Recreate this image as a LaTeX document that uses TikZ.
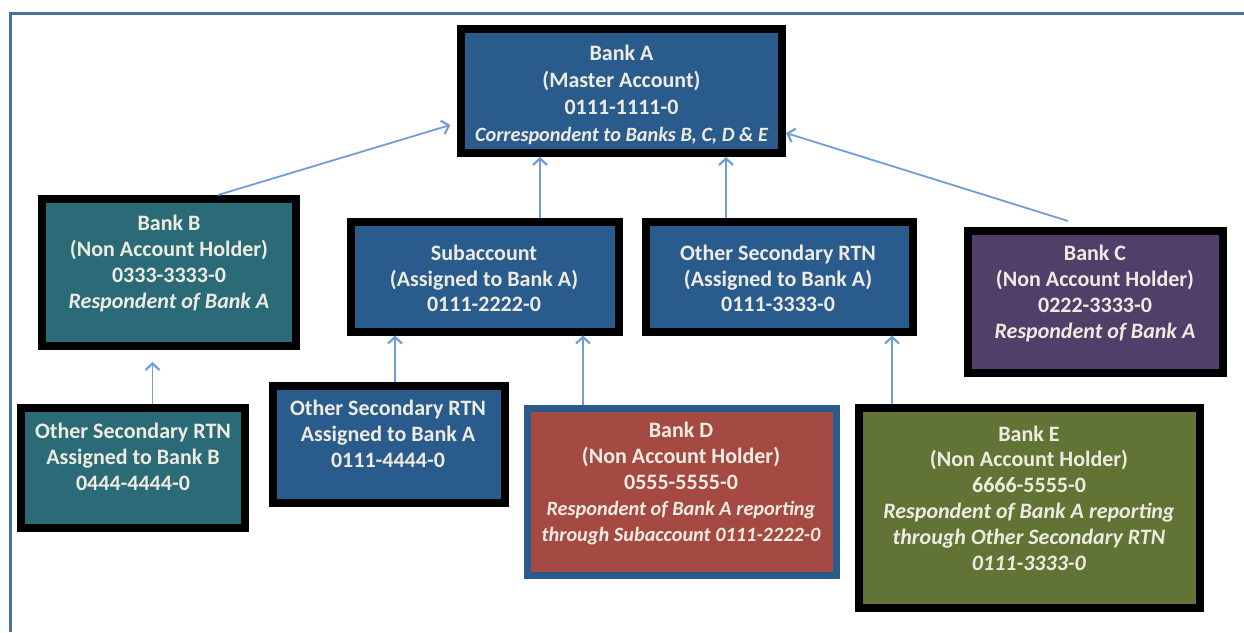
\documentclass[tikz,border=0pt]{standalone}
\usepackage{fontspec}
\setmainfont{Carlito}
\usetikzlibrary{arrows.meta}

\definecolor{frameblue}{HTML}{4A70A3}
\definecolor{acctblue}{HTML}{2A5B8D}
\definecolor{tealfill}{HTML}{2B6B78}
\definecolor{purplefill}{HTML}{513F6A}
\definecolor{redfill}{HTML}{A54A43}
\definecolor{greenfill}{HTML}{627435}
\definecolor{labeltext}{HTML}{EEECE1}
\definecolor{linkblue}{HTML}{6F9FD4}

% slightly smaller italic line used in some boxes
\newcommand{\smallit}[1]{{\fontsize{20.3}{25.8}\selectfont\itshape #1}}

\tikzset{
  bankbox/.style={draw=black, line width=8pt, inner sep=0pt},
  bluebox/.style={draw=acctblue, line width=7pt, inner sep=0pt},
  boxtext/.style={text=labeltext, align=center, inner sep=0pt,
    font=\bfseries\fontsize{22}{25.8}\selectfont},
  link/.style={draw=linkblue, line width=1.8pt,
    -{Straight Barb[length=6.5pt,width=14pt,line width=2.2pt]}},
  framerule/.style={draw=frameblue, line width=3pt}
}

\begin{document}
\begin{tikzpicture}[x=1pt, y=-1pt]
\useasboundingbox (0,0) rectangle (1244,632);
\fill[white] (0,0) rectangle (1244,632);

% outer frame (left and top rules)
\draw[framerule] (10,632) -- (10,13) -- (1244,13);

% boxes: outer size minus the border width
\node[bankbox, fill=acctblue, minimum width=321pt, minimum height=124pt] (bankA) at (621.5,91) {};
\node[bankbox, fill=tealfill, minimum width=254pt, minimum height=147pt] (bankB) at (169,272.5) {};
\node[bankbox, fill=tealfill, minimum width=224pt, minimum height=120pt] (secB) at (133,468) {};
\node[bankbox, fill=acctblue, minimum width=268pt, minimum height=110pt] (subacct) at (485,276.5) {};
\node[bankbox, fill=acctblue, minimum width=267pt, minimum height=110pt] (secA) at (779.5,276.5) {};
\node[bankbox, fill=purplefill, minimum width=255pt, minimum height=142pt] (bankC) at (1095.5,302) {};
\node[bankbox, fill=acctblue, minimum width=232pt, minimum height=117pt] (secAfour) at (389,444.5) {};
\node[bluebox, fill=redfill, minimum width=309pt, minimum height=167pt] (bankD) at (681.5,492) {};
\node[bankbox, fill=greenfill, minimum width=341pt, minimum height=200pt] (bankE) at (1029.5,508) {};

% box labels
\node[boxtext, font=\bfseries\fontsize{22}{27}\selectfont] (bankA-txt) at (621.5,95) {Bank A\\(Master Account)\\0111-1111-0\\\smallit{Correspondent to Banks B, C, D \& E}};
\node[boxtext] (bankB-txt) at (169,263.5) {Bank B\\(Non Account Holder)\\0333-3333-0\\\textit{Respondent of Bank A}};
\node[boxtext] (secB-txt) at (133,457) {Other Secondary RTN\\Assigned to Bank B\\0444-4444-0};
\node[boxtext] (subacct-txt) at (484,278.5) {Subaccount\\(Assigned to Bank A)\\0111-2222-0};
\node[boxtext] (secA-txt) at (778,278.5) {Other Secondary RTN\\(Assigned to Bank A)\\0111-3333-0};
\node[boxtext] (bankC-txt) at (1095,293.5) {Bank C\\(Non Account Holder)\\0222-3333-0\\\textit{Respondent of Bank A}};
\node[boxtext] (secAfour-txt) at (388,434) {Other Secondary RTN\\Assigned to Bank A\\0111-4444-0};
\node[boxtext] (bankD-txt) at (681,483.5) {Bank D\\(Non Account Holder)\\0555-5555-0\\\smallit{Respondent of Bank A reporting}\\\smallit{through Subaccount 0111-2222-0}};
\node[boxtext] (bankE-txt) at (1029,498) {Bank E\\(Non Account Holder)\\6666-5555-0\\\textit{Respondent of Bank A reporting}\\\textit{through Other Secondary RTN}\\\textit{0111-3333-0}};

% reporting links
\draw[link, shorten >=7pt] ([xshift=49pt]bankB.north) -- ([yshift=-32pt]bankA.west);
\draw[link] ([xshift=-27.5pt, yshift=6pt]bankC.north) -- ([yshift=-42pt]bankA.east);
\draw[link] ([xshift=55pt]subacct.north) -- ([xshift=-81.5pt]bankA.south);
\draw[link] ([xshift=-53.5pt]secA.north) -- ([xshift=104.5pt]bankA.south);
\draw[link, shorten >=12pt] ([xshift=19.5pt]secB.north) -- ([xshift=-16.5pt]bankB.south);
\draw[link] ([xshift=6pt]secAfour.north) -- ([xshift=-90pt]subacct.south);
\draw[link] ([xshift=-98.5pt]bankD.north) -- ([xshift=98pt]subacct.south);
\draw[link] ([xshift=-137.5pt]bankE.north) -- ([xshift=112.5pt]secA.south);
\end{tikzpicture}
\end{document}
